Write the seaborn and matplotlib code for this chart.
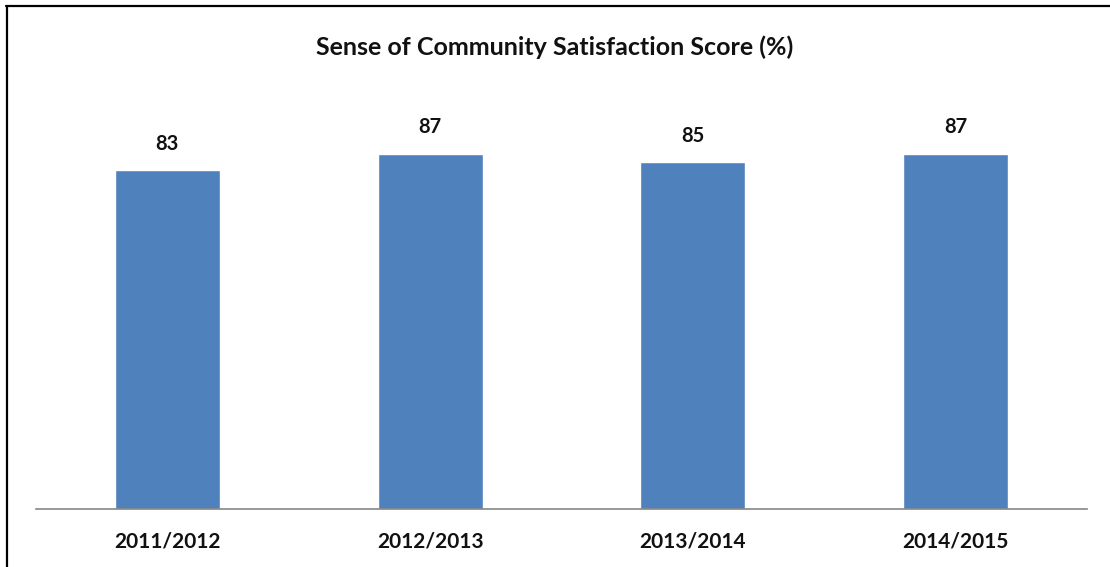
import matplotlib
matplotlib.use("Agg")
import matplotlib.pyplot as plt
import seaborn as sns
import pandas as pd
from matplotlib.lines import Line2D

years = ["2011/2012", "2012/2013", "2013/2014", "2014/2015"]
scores = [83, 87, 85, 87]
title = "Sense of Community Satisfaction Score (%)"

sns.set_theme(style="white")
plt.rcParams['font.family'] = ['Lato', 'DejaVu Sans']

df = pd.DataFrame({"year": years, "score": scores})

W, H = 1110, 567
fig = plt.figure(figsize=(W / 100, H / 100), dpi=100)
ax = fig.add_axes([36 / W, (H - 509) / H, (1087 - 36) / W, (509 - 101) / H])

sns.barplot(data=df, x="year", y="score", color="#4F81BD", width=0.4,
            saturation=1, ax=ax)
ax.set_ylim(0, 100)
ax.set_xlim(-0.5, 3.5)
ax.set_yticks([])
ax.set_xlabel("")
ax.set_ylabel("")
for s in ["top", "right", "left"]:
    ax.spines[s].set_visible(False)
ax.spines["bottom"].set_color("#868686")
ax.spines["bottom"].set_linewidth(1.2)
ax.tick_params(axis="x", length=0, pad=16, labelsize=15)
for lbl in ax.get_xticklabels():
    lbl.set_fontweight("bold")
    lbl.set_color("#111111")

ax.bar_label(ax.containers[0], labels=[str(v) for v in scores], padding=12,
             fontsize=14.5, fontweight="bold", color="#111111")

fig.text(0.5, (H - 47) / H, title, ha="center", va="center",
         fontsize=18, fontweight="bold", color="#111111")

# frame lines (left and top) like the screenshot
fig.add_artist(Line2D([7 / W, 7 / W], [0, (H - 6) / H], transform=fig.transFigure,
                      color="black", linewidth=1.6))
fig.add_artist(Line2D([6 / W, 1], [(H - 6) / H, (H - 6) / H], transform=fig.transFigure,
                      color="black", linewidth=1.6))

fig.savefig("out.png", dpi=100, facecolor="white")
